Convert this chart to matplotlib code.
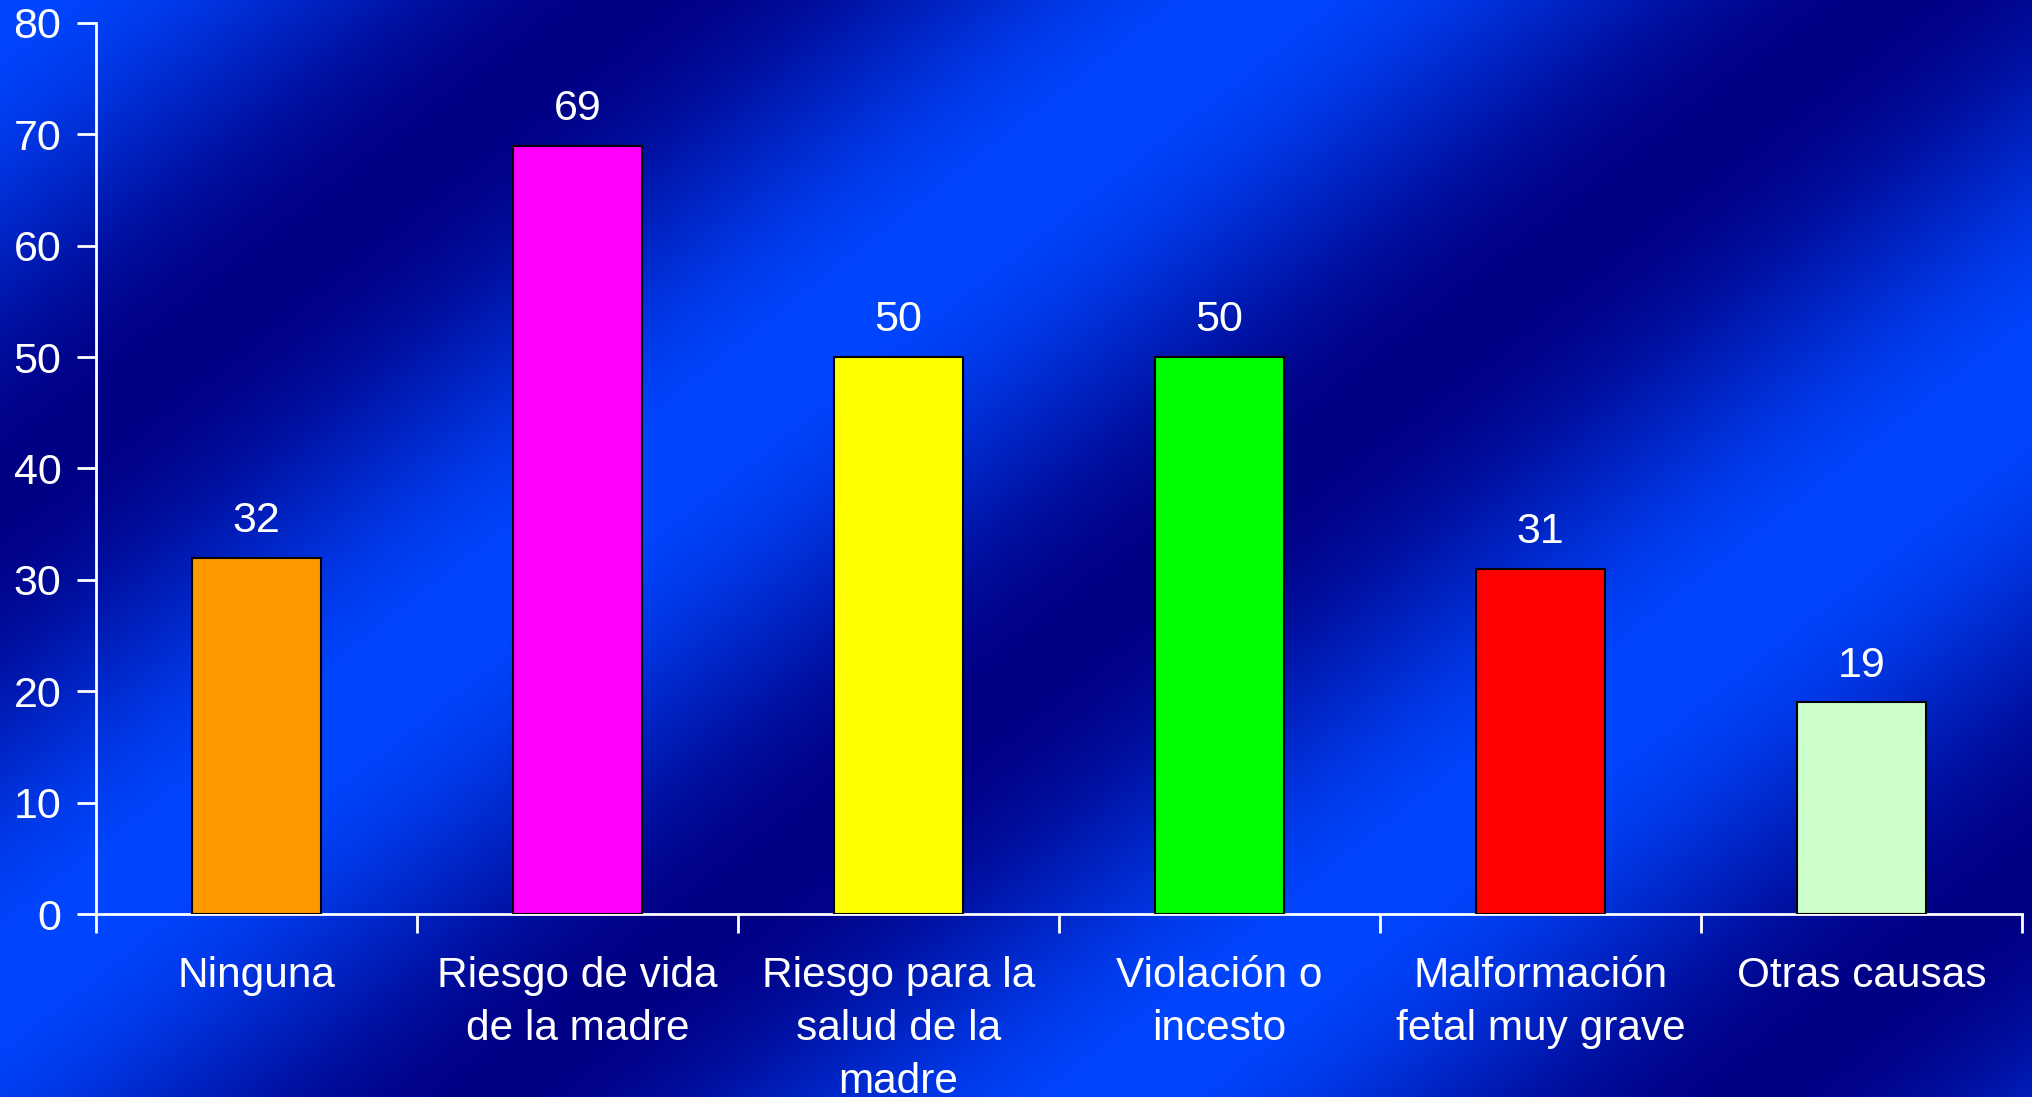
import numpy as np
import matplotlib
matplotlib.use('Agg')
import matplotlib.pyplot as plt

plt.rcParams['font.family'] = ['Liberation Sans', 'DejaVu Sans']

# datos
categorias = ['Ninguna', 'Riesgo de vida\nde la madre', 'Riesgo para la\nsalud de la\nmadre',
              'Violación o\nincesto', 'Malformación\nfetal muy grave', 'Otras causas']
valores = [32, 69, 50, 50, 31, 19]
colores = ['#FF9900', '#FF00FF', '#FFFF00', '#00FF00', '#FF0000', '#CCFFCC']

W, H = 2033, 1097
fig = plt.figure(figsize=(W / 100, H / 100), dpi=100)

# fondo degradado en bandas diagonales
yy, xx = np.mgrid[0:H, 0:W]
s = 0.62 * xx + 0.79 * yy
t = (1 + np.cos(2 * np.pi * s / 780.0)) / 2
claro = np.array([0, 70, 255]) / 255
oscuro = np.array([0, 0, 132]) / 255
fondo = oscuro + t[..., None] * (claro - oscuro)
bg = fig.add_axes([0, 0, 1, 1])
bg.imshow(fondo, aspect='auto', interpolation='bilinear')
bg.axis('off')

ax = fig.add_axes([96 / W, 1 - 914 / H, (2022 - 96) / W, (914 - 23) / H])
ax.patch.set_alpha(0)

x = np.arange(len(valores))
barras = ax.bar(x, valores, width=0.4, color=colores, edgecolor='black', linewidth=1.5, zorder=3)
for xi, v in zip(x, valores):
    ax.annotate(str(v), (xi, v), xytext=(0, 12), textcoords='offset points',
                ha='center', va='bottom', color='white', fontsize=31)

ax.set_xlim(-0.5, len(valores) - 0.5)
ax.set_ylim(0, 80)
ax.set_yticks(range(0, 81, 10))
ax.set_xticks(x)
ax.set_xticklabels(categorias, fontsize=30.5, color='white', linespacing=1.42)
ax.set_xticks(np.arange(-0.5, len(valores), 1), minor=True)
ax.tick_params(axis='x', which='major', length=0, pad=30)
ax.tick_params(axis='x', which='minor', length=14, width=2, color='white', direction='out')
ax.tick_params(axis='y', length=14, width=2, color='white', labelcolor='white',
               labelsize=31, pad=11)

for lado in ['top', 'right']:
    ax.spines[lado].set_visible(False)
for lado in ['left', 'bottom']:
    ax.spines[lado].set_color('white')
    ax.spines[lado].set_linewidth(2)

fig.savefig('out.png', dpi=100)
